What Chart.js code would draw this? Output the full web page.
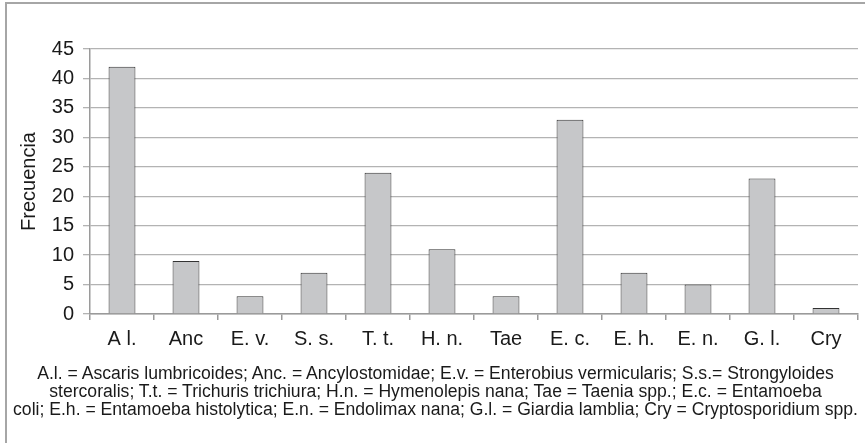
<!DOCTYPE html>
<html>
<head>
<meta charset="utf-8">
<script src="https://cdn.jsdelivr.net/npm/chart.js@4/dist/chart.umd.min.js"></script>
<style>
  html, body { margin: 0; padding: 0; background: #fff; }
  #wrap { position: relative; width: 865px; height: 443px; overflow: hidden; }
  #frame { position: absolute; left: 5px; top: 2px; right: -5px; bottom: -5px;
           border-left: 2px solid #a6a6a6; border-top: 2px solid #a6a6a6; pointer-events: none; }
  #note { position: absolute; left: 6px; top: 364px; width: 859px; text-align: center;
          font: 17.6px "Liberation Sans", Arial, sans-serif; line-height: 18px; color: #1a1a1a; white-space: nowrap; }
  canvas { position: absolute; left: 0; top: 0; }
</style>
</head>
<body>
<div id="wrap">
  <canvas id="myChart" width="865" height="443"></canvas>
  <div id="frame"></div>
  <div id="note">A.l. = Ascaris lumbricoides; Anc. = Ancylostomidae; E.v. = Enterobius vermicularis; S.s.= Strongyloides<br>stercoralis; T.t. = Trichuris trichiura; H.n. = Hymenolepis nana; Tae = Taenia spp.; E.c. = Entamoeba<br>coli; E.h. = Entamoeba histolytica; E.n. = Endolimax nana; G.l. = Giardia lamblia; Cry = Cryptosporidium spp.</div>
</div>
<script>
// categories and counts
var categorias = ['A l.', 'Anc', 'E. v.', 'S. s.', 'T. t.', 'H. n.', 'Tae', 'E. c.', 'E. h.', 'E. n.', 'G. l.', 'Cry'];
var frecuencias = [42, 9, 3, 7, 24, 11, 3, 33, 7, 5, 23, 1];
var yMax = 45;
var yPaso = 5;

var fuente = '"Liberation Sans", Arial, sans-serif';

var ctx = document.getElementById('myChart').getContext('2d');
new Chart(ctx, {
	type: 'bar',
	data: {
		labels: categorias,
		datasets: [{
			label: 'Frecuencia',
			data: frecuencias,
			backgroundColor: '#c6c7c9',
			borderColor: '#333333',
			borderWidth: 1,
			categoryPercentage: 1,
			barPercentage: 0.42
		}]
	},
	options: {
		responsive: false,
		animation: false,
		layout: { padding: { top: 49, right: 7, left: 0, bottom: 0 } },
		plugins: {
			legend: { display: false },
			tooltip: { enabled: false }
		},
		scales: {
			x: {
				offset: true,
				afterFit: function (s) { s.height = 129; },
				border: { color: '#9a9a9a', width: 1.5 },
				grid: { offset: true, drawOnChartArea: false, drawTicks: true, tickLength: 6, color: '#9a9a9a', lineWidth: 1.5 },
				ticks: { color: '#1a1a1a', font: { family: fuente, size: 20 }, padding: 7, maxRotation: 0 }
			},
			y: {
				min: 0,
				max: yMax,
				afterFit: function (s) { s.width = 90; },
				border: { color: '#9a9a9a', width: 1.5 },
				grid: { color: '#b3b3b3', lineWidth: 1.3, tickLength: 7 },
				ticks: { stepSize: yPaso, color: '#1a1a1a', font: { family: fuente, size: 20 }, padding: 9 },
				title: { display: true, text: 'Frecuencia', color: '#1a1a1a', font: { family: fuente, size: 20 }, padding: { top: 17, bottom: 0 } }
			}
		}
	}
});
</script>
</body>
</html>
